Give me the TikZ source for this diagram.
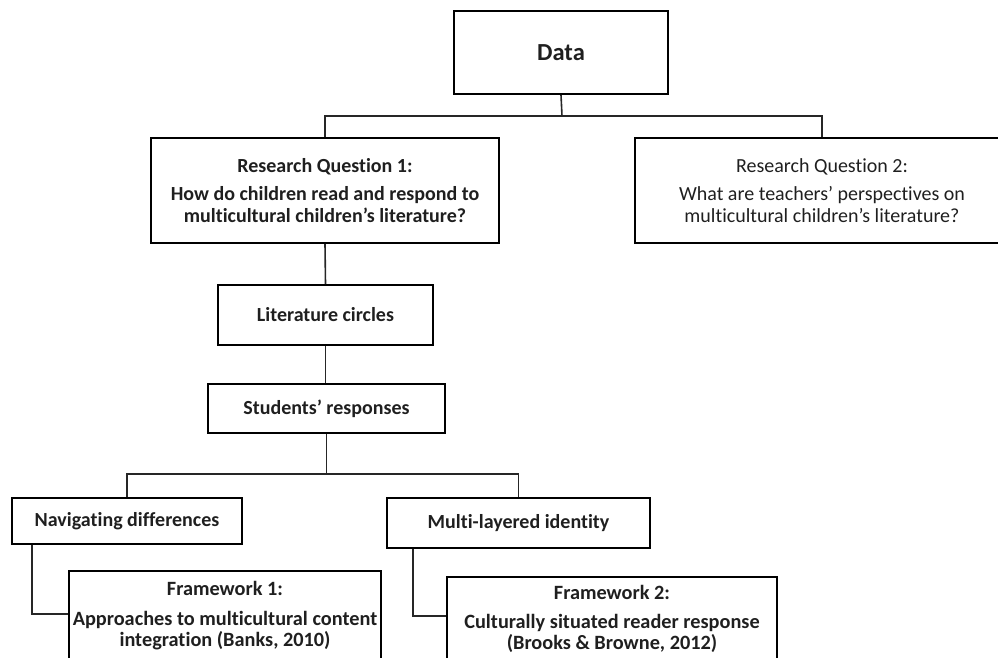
\documentclass[tikz,border=0pt]{standalone}
\usepackage{fontspec}
\setmainfont{Carlito}[Ligatures=NoCommon]
\begin{document}
\begin{tikzpicture}[x=1pt,y=-1pt,
  box/.style={draw=black, line width=1.7pt, rectangle, inner sep=0pt},
  conn/.style={draw=black!85, line width=1.6pt},
  lbl/.style={text=black!88, align=center, font=\fontsize{20}{21.5}\selectfont\bfseries},
  lblr/.style={text=black!88, align=center, font=\fontsize{20}{21.5}\selectfont},
  fwl/.style={text=black!88, align=center, font=\fontsize{20.3}{21}\selectfont\bfseries},
  big/.style={text=black!88, font=\fontsize{24.5}{28}\selectfont\bfseries}
]
\useasboundingbox (0,0) rectangle (998,658);
\begin{scope}
\clip (0,0) rectangle (998,658);
% boxes
\node[box, big, minimum width=214pt, minimum height=83pt] (data) at (561,52.5) {Data};
\node[box, lbl, minimum width=348pt, minimum height=105pt] (rq1) at (325,190.5)
  {Research Question 1:\\[7pt] How do children read and respond to\\ multicultural children’s literature?};
\node[box, lblr, minimum width=374pt, minimum height=105pt] (rq2) at (822,190.5)
  {Research Question 2:\\[7pt] What are teachers’ perspectives on\\ multicultural children’s literature?};
\node[box, lbl, minimum width=215pt, minimum height=60pt] (lit) at (325.5,315) {Literature circles};
\node[box, lbl, minimum width=237pt, minimum height=49pt] (stu) at (326.5,408.5) {Students’ responses};
\node[box, lbl, minimum width=230pt, minimum height=46pt] (nav) at (127,521) {Navigating differences};
\node[box, lbl, minimum width=263pt, minimum height=50pt] (multi) at (518.5,523) {Multi-layered identity};
\node[box, minimum width=312pt, minimum height=120pt] (fw1) at (225,631) {};
\node[box, minimum width=330pt, minimum height=120pt] (fw2) at (612,637) {};
\node[fwl] (fw1t) at (225,616)
  {Framework 1:\\[9pt] Approaches to multicultural content\\ integration (Banks, 2010)};
\node[fwl] (fw2t) at (612,618.5)
  {Framework 2:\\[8pt] Culturally situated reader response\\ (Brooks \& Browne, 2012)};
% connectors
\coordinate (j1) at (562,116);
\draw[conn] (data.south) -- (j1);
\draw[conn] (rq1.north) |- (j1) -| (rq2.north);
\draw[conn] (rq1.south) -- (lit.north);
\draw[conn] (lit.south) -- (lit.south |- stu.north);
\coordinate (j2) at (326.5,474);
\draw[conn] (stu.south) -- (j2);
\draw[conn] (nav.north) |- (j2) -| (multi.north);
\draw[conn] ([xshift=21pt]nav.south west) |- ([yshift=-44pt]fw1.north west);
\draw[conn] ([xshift=27pt]multi.south west) |- ([yshift=-40pt]fw2.north west);
\end{scope}
\end{tikzpicture}
\end{document}
